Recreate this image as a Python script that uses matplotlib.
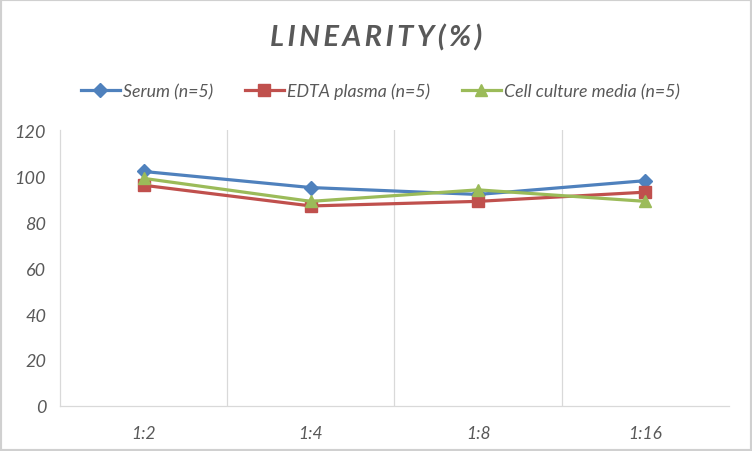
import matplotlib
matplotlib.use("Agg")
import matplotlib.pyplot as plt
from matplotlib.patches import Rectangle

# data
dilutions = ["1:2", "1:4", "1:8", "1:16"]
serum = [102, 95, 92, 98]
edta = [96, 87, 89, 93]
cell_media = [99, 89, 94, 89]
series_names = ["Serum (n=5)", "EDTA plasma (n=5)", "Cell culture media (n=5)"]
y_ticks = [0, 20, 40, 60, 80, 100, 120]

colors = ["#4F81BD", "#C0504D", "#9BBB59"]
markers = ["D", "s", "^"]
msizes = [7, 8.5, 9]
text_gray = "#595959"
grid_gray = "#D9D9D9"

plt.rcParams["font.family"] = ["Lato", "DejaVu Sans"]

fig = plt.figure(figsize=(7.52, 4.52), dpi=100)
ax = fig.add_axes([0.0798, 0.0996, 0.8896, 0.6104])

x = range(len(dilutions))
for vals, name, c, m, ms in zip([serum, edta, cell_media], series_names, colors, markers, msizes):
    ax.plot(x, vals, color=c, lw=2.3, marker=m, markersize=ms, label=name,
            markeredgecolor=c, zorder=3)

ax.set_xlim(-0.5, len(dilutions) - 0.5)
ax.set_ylim(0, 120)
ax.set_yticks(y_ticks)
ax.set_xticks(list(x))
ax.set_xticklabels(dilutions, style="italic", color=text_gray, fontsize=12.5)
ax.set_yticklabels([str(v) for v in y_ticks], style="italic", color=text_gray, fontsize=13)
ax.tick_params(length=0, pad=10)
ax.tick_params(axis="x", pad=14)

# vertical category gridlines between categories
for b in [0.5, 1.5, 2.5]:
    ax.axvline(b, color=grid_gray, lw=0.9, zorder=1)
for s in ["top", "right"]:
    ax.spines[s].set_visible(False)
ax.spines["left"].set_color(grid_gray)
ax.spines["bottom"].set_color(grid_gray)
ax.spines["left"].set_linewidth(0.9)
ax.spines["bottom"].set_linewidth(0.9)

fig.text(0.5, 0.915, "L I N E A R I T Y ( % )".replace(" ", "\u2009"), ha="center", va="center",
         fontsize=21, fontweight="bold", style="italic", color=text_gray)

leg = fig.legend(loc="center", bbox_to_anchor=(0.506, 0.797), ncol=3, frameon=False,
                 prop={"style": "italic", "size": 12.8}, handlelength=2.2,
                 handletextpad=0.2, columnspacing=1.75)
for t in leg.get_texts():
    t.set_color(text_gray)

# light gray frame around the image
fig.patches.append(Rectangle((0, 0), 1, 1, transform=fig.transFigure, fill=False,
                             edgecolor="#D0D0D0", lw=3))

fig.savefig("out.png", dpi=100)
